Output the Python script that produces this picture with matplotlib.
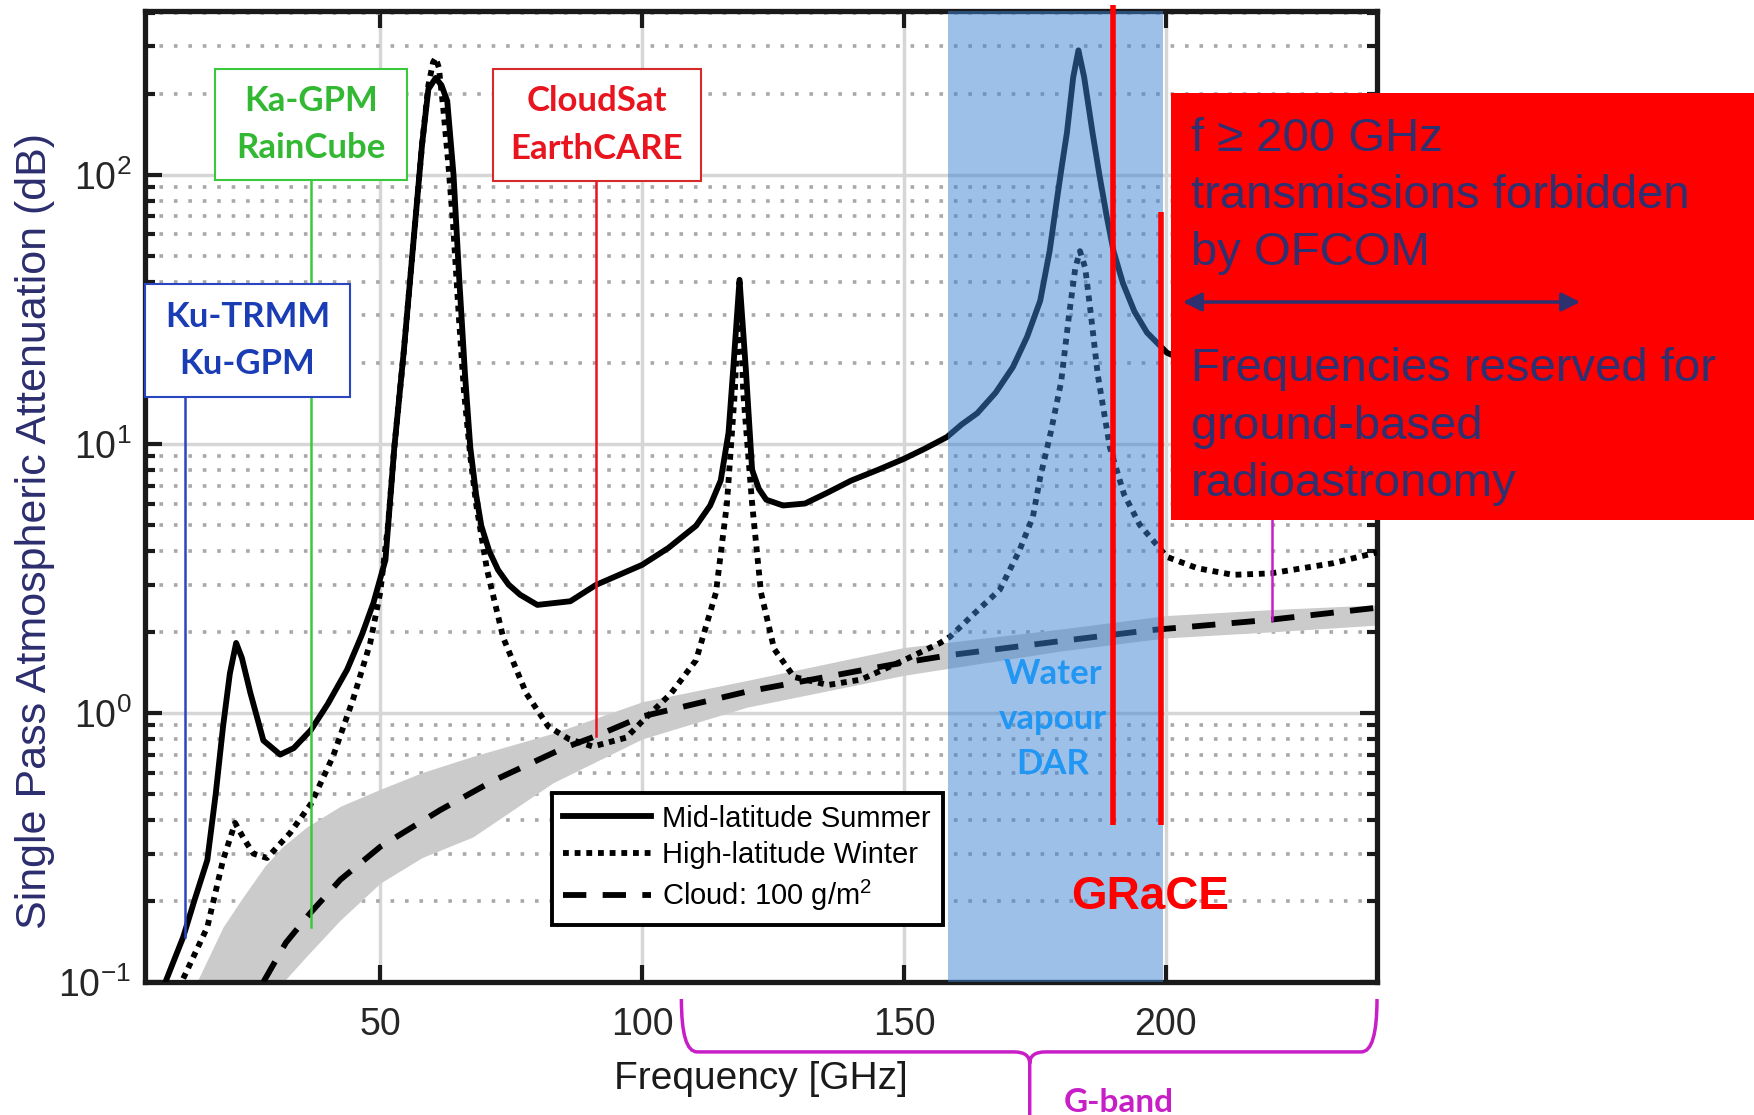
import numpy as np
import matplotlib
matplotlib.use("Agg")
import matplotlib.pyplot as plt
from matplotlib.patches import Rectangle, PathPatch, FancyArrowPatch
from matplotlib.path import Path
from matplotlib.ticker import LogLocator, NullFormatter

plt.rcParams["font.family"] = ["Liberation Sans", "DejaVu Sans"]
plt.rcParams["mathtext.fontset"] = "custom"
plt.rcParams["mathtext.rm"] = "Liberation Sans"
plt.rcParams["mathtext.default"] = "regular"
plt.rcParams["axes.unicode_minus"] = False

# --- data (GHz, dB) ---
freq_summer = [9.0, 12.4, 14.5, 17.0, 18.6, 20.0, 21.3, 22.5, 23.6, 25.2, 27.7, 30.9, 33.5,
               36.8, 40.0, 43.7, 46.5, 48.7, 51.0, 52.7, 54.5, 56.1, 58.0, 59.2, 60.6, 61.7,
               62.8, 64.0, 65.1, 66.2, 67.2, 68.3, 69.3, 70.8, 72.5, 74.5, 76.7, 80.0, 86.3,
               91.2, 100, 105, 110.3, 113, 115, 116.5, 117.4, 118.6, 119.8, 121, 122.3, 123.7,
               126.9, 131.1, 135.5, 139.9, 145, 150, 154, 158.2, 161, 164, 167.5, 170.8, 173.5,
               176, 177.8, 179.2, 180.2, 181.1, 182.3, 183.3, 184.4, 186, 187.3, 188.7, 190,
               191.8, 194, 196.4, 200.2, 210, 225, 240.3]
summer = [0.1, 0.147, 0.2, 0.284, 0.5, 0.89, 1.4, 1.82, 1.6, 1.19, 0.79, 0.70, 0.74,
          0.865, 1.08, 1.45, 1.95, 2.56, 3.7, 9.7, 22, 49.6, 130, 208, 229, 215,
          188, 100, 40.7, 18, 9.7, 6.5, 4.96, 4.0, 3.4, 3.0, 2.75, 2.52, 2.6,
          2.99, 3.55, 4.1, 4.96, 5.9, 7.3, 11, 19, 40.7, 19, 8.0, 6.8, 6.2,
          5.9, 6.0, 6.6, 7.3, 8.0, 8.8, 9.6, 10.6, 11.8, 13, 15.5, 19.3, 25,
          34, 52, 81, 110, 143, 230, 290, 230, 143, 100, 70, 52,
          39.5, 31, 25.9, 21.8, 18, 16, 15]

freq_winter = [12.4, 17, 20, 22.3, 24, 25.8, 28.4, 32.8, 36.8, 41, 44.8, 48.1, 50, 51.5, 52.7,
               54.5, 56.1, 58, 59.2, 60.1, 60.6, 61.2, 62, 63, 63.9, 65, 66, 67.2, 68.3, 70.4,
               73.5, 77.9, 82.1, 86, 90.6, 97, 100, 105.5, 110.3, 114.1, 116.2, 117.7, 118.6,
               119.3, 121, 122.7, 125.2, 129, 135.5, 141.8, 150, 156.9, 158.8, 163, 168.3, 172,
               174.6, 176, 178, 180, 181.5, 182.7, 183.6, 184.6, 185.7, 187, 189.3, 192, 195,
               200.2, 206, 212.8, 220, 231.9, 240.3]
winter = [0.103, 0.16, 0.284, 0.39, 0.34, 0.30, 0.289, 0.358, 0.46, 0.69, 1.12, 1.82, 2.8, 5.0, 9.7,
          22, 49.6, 130, 215, 262, 272, 250, 180, 110, 66, 30, 15.6, 9.0, 6.0, 3.4,
          1.9, 1.18, 0.89, 0.8, 0.75, 0.81, 0.93, 1.18, 1.57, 2.8, 6.0, 15.6, 40,
          15.6, 6.0, 2.8, 1.73, 1.36, 1.27, 1.33, 1.57, 1.82, 1.92, 2.3, 2.87, 4.0,
          5.35, 7.5, 11, 17, 30, 45, 52, 45, 30, 18, 9.7, 6.5, 5.0,
          3.8, 3.45, 3.26, 3.3, 3.6, 3.95]

freq_cloud = [27.7, 32, 36.6, 42.4, 50, 61.5, 71.6, 85, 91.2, 100, 120, 149.2, 158.8, 180,
              197, 220, 240.3]
cloud = [0.1, 0.14, 0.18, 0.24, 0.318, 0.436, 0.56, 0.74, 0.82, 0.97, 1.2, 1.53, 1.64, 1.85,
         2.03, 2.22, 2.46]

band_freq = [15, 20, 23.3, 28, 31.5, 36, 42.4, 50, 58, 67.7, 83, 100, 120, 150, 180, 200, 220, 240.3]
band_hi = [0.1, 0.16, 0.2, 0.27, 0.32, 0.377, 0.45, 0.52, 0.6, 0.69, 0.84, 1.1, 1.32, 1.75, 2.05,
           2.3, 2.42, 2.52]
band_lo = [0.05, 0.05, 0.05, 0.05, 0.1, 0.125, 0.17, 0.233, 0.29, 0.346, 0.55, 0.8, 1.05, 1.38,
           1.7, 1.9, 2.0, 2.12]

# instrument markers: frequency, top and bottom of the line
inst_freq = [12.8, 36.8, 91.2, 220.2]
inst_top = [15.0, 95.6, 94.8, 10.0]
inst_bot = [0.147, 0.16, 0.82, 2.22]
inst_color = ["#2a45c0", "#3cc83c", "#e8141e", "#c81ec8"]

grace_freq = [189.9, 199.0]
grace_top = [428, 72.9]
grace_bot = [0.383, 0.383]

wv_band = (158.4, 199.4)
gband = (107.5, 174.0, 240.3)

box_labels = ["Ku-TRMM\nKu-GPM", "Ka-GPM\nRainCube", "CloudSat\nEarthCARE"]
box_colors = ["#1a3cb4", "#33b833", "#e8141e"]
box_edges = ["#2a45c0", "#3cc83c", "#d42a2a"]
# axes-fraction rectangles (x, y, w, h)
box_rects = [(0.0, 0.6025, 0.1664, 0.1163), (0.0568, 0.8260, 0.1559, 0.1143),
             (0.2825, 0.8249, 0.1688, 0.1154)]

ofcom_lines = ["f \u2265 200 GHz", "transmissions forbidden", "by OFCOM",
               "Frequencies reserved for", "ground-based", "radioastronomy"]
ofcom_base = [151, 208, 265, 381, 439, 496]   # baselines in figure pixels

navy = "#2e3070"
W, H = 1754, 1115

fig = plt.figure(figsize=(W / 100, H / 100), dpi=100)
ax = fig.add_axes([145 / W, 1 - 982 / H, 1232 / W, 971 / H])
ax.set_yscale("log")
ax.set_xlim(5.1, 240.3)
ax.set_ylim(0.1, 406)

ax.set_xticks([50, 100, 150, 200])
ax.yaxis.set_major_locator(LogLocator(base=10, numticks=10))
ax.yaxis.set_minor_locator(LogLocator(base=10, subs=np.arange(2, 10), numticks=20))
ax.yaxis.set_minor_formatter(NullFormatter())
ax.grid(True, which="major", color="#d6d6d6", lw=2.5)
ax.grid(True, which="minor", axis="y", color="#a8a8a8", lw=2.6, ls=(0, (1, 3)))
ax.set_axisbelow(True)
ax.tick_params(which="both", direction="in", top=True, right=True, width=3,
               colors="#1a1a1a", labelcolor="#262626", labelsize=27)
ax.tick_params(which="major", length=12)
ax.tick_params(which="minor", length=7)
ax.tick_params(axis="x", pad=18)
ax.tick_params(axis="y", pad=10)
for s in ax.spines.values():
    s.set_linewidth(3.8)
    s.set_color("#1a1a1a")

ax.fill_between(band_freq, band_lo, band_hi, color="#cbcbcb", lw=0, zorder=1)
l3, = ax.plot(freq_cloud, cloud, color="black", lw=4.2, ls=(0, (4, 2.8)), zorder=3,
              label="Cloud: 100 g/m$^2$")
l2, = ax.plot(freq_winter, winter, color="black", lw=4.2, ls=(0, (1, 1)), zorder=3,
              label="High-latitude Winter")
l1, = ax.plot(freq_summer, summer, color="black", lw=4.2, zorder=3,
              label="Mid-latitude Summer")

for f, t, b, c in zip(inst_freq, inst_top, inst_bot, inst_color):
    ax.plot([f, f], [b, t], color=c, lw=1.8, zorder=4)

ax.axvspan(wv_band[0], wv_band[1], color="#3c82d3", alpha=0.5, lw=0, zorder=5)
ax.text(178.4, 0.95, "Water\nvapour\nDAR", ha="center", va="center", color="#2196f3",
        fontsize=25, fontweight="bold", family=["Lato", "DejaVu Sans"], linespacing=1.5,
        zorder=6)

for f, t, b in zip(grace_freq, grace_top, grace_bot):
    ax.plot([f, f], [b, t], color="#ff0000", lw=4, solid_capstyle="butt", clip_on=False,
            zorder=7)
ax.text(196.9, 0.207, "GRaCE", ha="center", va="center", color="#ff0000", fontsize=33,
        fontweight="bold", zorder=7)

for lab, tc, ec, (x0, y0, w, h) in zip(box_labels, box_colors, box_edges, box_rects):
    ax.add_patch(Rectangle((x0, y0), w, h, transform=ax.transAxes, fc="white", ec=ec,
                           lw=1.5, zorder=8, clip_on=False))
    ax.text(x0 + w / 2, y0 + h / 2, lab, transform=ax.transAxes, ha="center", va="center",
            color=tc, fontsize=25, fontweight="bold", family=["Lato", "DejaVu Sans"],
            linespacing=1.6, zorder=9)

leg = ax.legend(handles=[l1, l2, l3], loc="lower left", bbox_to_anchor=(0.330, 0.0587),
                fontsize=21, frameon=True, fancybox=False, edgecolor="black", framealpha=1,
                handlelength=3.0, handletextpad=0.4, labelspacing=0.3, borderpad=0.4,
                borderaxespad=0)
leg.get_frame().set_linewidth(2.8)
leg.set_zorder(6)

ax.set_xlabel("Frequency [GHz]", fontsize=28, color="#1a1a1a")
ax.xaxis.set_label_coords(0.5, -0.081)
ax.set_ylabel("Single Pass Atmospheric Attenuation (dB)", fontsize=31, color="#2b2d6e")
ax.yaxis.set_label_coords(-0.073, 0.4645)

# G-band brace below the x axis (x in GHz, y in axes fraction)
gl, gm, gr = gband
yt, yh, yb = -0.0175, -0.072, -0.137
verts = [(gl, yt), (gl, yh), (gl + 3, yh), (gm - 3, yh), (gm, yh), (gm, yh - 0.012),
         (gm, yb), (gm, yh - 0.012), (gm, yh), (gm + 3, yh), (gr - 3, yh), (gr, yh), (gr, yt)]
codes = [Path.MOVETO, Path.CURVE3, Path.CURVE3, Path.LINETO, Path.CURVE3, Path.CURVE3,
         Path.LINETO, Path.MOVETO, Path.CURVE3, Path.CURVE3, Path.LINETO, Path.CURVE3,
         Path.CURVE3]
ax.add_patch(PathPatch(Path(verts, codes), transform=ax.get_xaxis_transform(), fill=False,
                       ec="#c81ec8", lw=2.5, clip_on=False))
ax.text(191, -0.1246, "G-band", transform=ax.get_xaxis_transform(), ha="center",
        va="center", color="#c81ec8", fontsize=24, fontweight="bold",
        family=["Lato", "DejaVu Sans"])

# OFCOM box over the upper right
fig.add_artist(Rectangle((1171 / W, 1 - 520 / H), 1 - 1171 / W, 427 / H,
                         transform=fig.transFigure, fc="#ff0000", ec="none", zorder=10))
for txt, yb_ in zip(ofcom_lines, ofcom_base):
    fig.text(1191 / W, 1 - yb_ / H, txt, ha="left", va="baseline", color=navy, fontsize=34,
             zorder=11)
fig.add_artist(FancyArrowPatch((1180 / W, 1 - 302 / H), (1583 / W, 1 - 302 / H),
                               transform=fig.transFigure, arrowstyle="<|-|>",
                               mutation_scale=28, lw=2.5, color=navy, zorder=11))

fig.savefig("out.png", dpi=100)
